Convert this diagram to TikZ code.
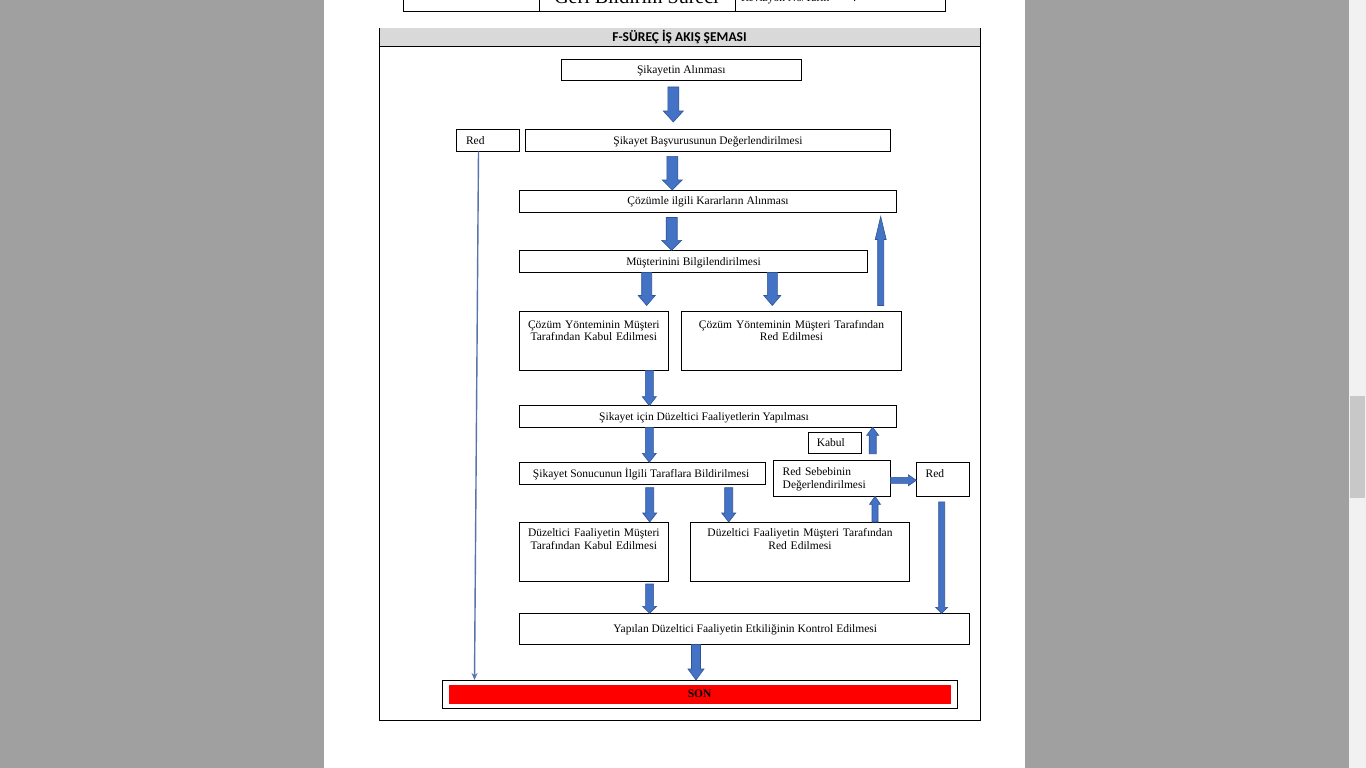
\documentclass[tikz,border=0pt]{standalone}
\usepackage{fontspec}
\setmainfont{Liberation Serif}
\newfontfamily\titlefont{Carlito}
\usetikzlibrary{calc,arrows.meta}
\definecolor{viewergray}{HTML}{A0A0A0}
\definecolor{arrowblue}{HTML}{4472C4}
\definecolor{arrowedge}{HTML}{2F5597}
\definecolor{headgray}{HTML}{D9D9D9}
\definecolor{thinblue}{HTML}{5874AC}
\definecolor{sbtrack}{HTML}{F1F1F1}
\definecolor{sbthumb}{HTML}{C8C8C8}
\definecolor{sonred}{HTML}{FF0000}

% box: name, x1, y1, x2, y2
\newcommand\bx[5]{\node[flowbox, minimum width={#4-#2}, minimum height={#5-#3}] (#1) at ({(#2+#4)/2},{(#3+#5)/2}) {};}
% block arrow: start, end, shaft half width, head half width, head length
\newcommand\blockarr[5]{%
  \path[blockarrow] let \p1=#1, \p2=#2, \n1={atan2(\y2-\y1,\x2-\x1)}, \n2={veclen(\x2-\x1,\y2-\y1)} in
    {[shift={(\p1)}, rotate=\n1] (0,#3) -- ({\n2-#5},#3) -- ({\n2-#5},#4) -- (\n2,0) -- ({\n2-#5},-#4) -- ({\n2-#5},-#3) -- (0,-#3) -- cycle};
}

\begin{document}
\begin{tikzpicture}[x=1pt,y=-1pt,
  flowbox/.style={draw=black, line width=1pt, fill=white, inner sep=0pt, outer sep=0pt},
  txt/.style={inner sep=0pt, outer sep=0pt, font=\fontsize{11.5}{12.5}\selectfont},
  blockarrow/.style={fill=arrowblue, draw=arrowedge, line width=0.6pt, line join=miter},
  thinarrow/.style={draw=thinblue, line width=1.4pt, -{Stealth[length=7pt,width=6pt]}}]
\useasboundingbox (0,0) rectangle (1366,768);
\begin{scope}
\clip (0,0) rectangle (1366,768);
% viewer background and page
\fill[viewergray] (0,0) rectangle (1366,768);
\fill[white] (324,0) rectangle (1025,768);
\fill[sbtrack] (1349,0) rectangle (1366,768);
\fill[sbthumb] (1350,396) rectangle (1365,498);

% top table (cut off)
\draw[line width=1pt] (403,-5) -- (403,12) -- (945,12) -- (945,-5);
\draw[line width=1pt] (539.5,-5) -- (539.5,12);
\draw[line width=1pt] (735.5,-5) -- (735.5,12);
\node[txt, font=\fontsize{20}{22}\selectfont, anchor=base] (toptitle) at (636.5,3.5) {Geri Bildirim Süreci};
\node[txt, anchor=base west] (toprev) at (741,2) {Revizyon No/Tarih};
\node[txt, anchor=base west] (topcolon) at (853,2) {:};

% section frame
\fill[headgray] (379,28) rectangle (980,47);
\draw[line width=1pt] (379,28) -- (379,720) -- (980,720) -- (980,28);
\draw[line width=1pt] (379,47) -- (980,47);
\node[txt, font=\titlefont\bfseries\fontsize{13.5}{15}\selectfont, anchor=base] (title) at (679.5,42) {F-SÜREÇ İŞ AKIŞ ŞEMASI};

% boxes
\bx{n1}{561}{59.5}{801.5}{80.5}
\bx{redL}{456}{129.5}{519}{151.3}
\bx{n3}{525.5}{129.5}{890.3}{151.3}
\bx{n4}{519.3}{190}{896.7}{212}
\bx{n5}{519.3}{250.3}{867.7}{272.3}
\bx{n6}{519.3}{311}{668.3}{370.3}
\bx{n7}{681.3}{311}{901.7}{370.3}
\bx{n8}{519.3}{405.7}{896.7}{427.3}
\bx{kabul}{808.3}{432.3}{861.3}{453.7}
\bx{n10}{519.3}{462.3}{765}{484.7}
\bx{n11}{773.3}{460.3}{890.3}{496.3}
\bx{redR}{916.3}{462.3}{969.7}{496.3}
\bx{n13}{519.3}{522}{668.3}{581}
\bx{n14}{690.3}{522}{909.7}{581}
\bx{n15}{519.3}{613.3}{969.3}{644.3}
\bx{son}{442.5}{680}{957.5}{708.3}
\fill[sonred] (449,685) rectangle (950.7,703.7);

% texts
\node[txt, anchor=base] (t1) at ($(n1.center)+(0,3.8)$) {Şikayetin Alınması};
\node[txt, anchor=base west] (tredL) at ($(redL.west)+(10,3.8)$) {Red};
\node[txt, anchor=base] (t3) at ($(n3.center)+(0,3.8)$) {Şikayet Başvurusunun Değerlendirilmesi};
\node[txt, anchor=base] (t4) at ($(n4.center)+(0,3.8)$) {Çözümle ilgili Kararların Alınması};
\node[txt, anchor=base] (t5) at ($(n5.center)+(0,3.8)$) {Müşterinini Bilgilendirilmesi};
\node[txt, anchor=base, text width=148pt, align=center] (t6) at (593.8,328) {Çözüm Yönteminin Müşteri\\Tarafından Kabul Edilmesi};
\node[txt, anchor=base, text width=218pt, align=center] (t7) at (791.5,328) {Çözüm Yönteminin Müşteri Tarafından\\Red Edilmesi};
\node[txt, anchor=base] (t8) at ($(n8.center)+(-4,3.8)$) {Şikayet için Düzeltici Faaliyetlerin Yapılması};
\node[txt, anchor=base west] (tkabul) at ($(kabul.west)+(8.5,3.8)$) {Kabul};
\node[txt, anchor=base] (t10) at ($(n10.center)+(-1,3.8)$) {Şikayet Sonucunun İlgili Taraflara Bildirilmesi};
\node[txt, anchor=base west, text width=110pt, align=left] (t11) at (782.7,475.5) {Red Sebebinin\\Değerlendirilmesi};
\node[txt, anchor=base west] (tredR) at (925.7,477.5) {Red};
\node[txt, anchor=base, text width=148pt, align=center] (t13) at (593.8,536.5) {Düzeltici Faaliyetin Müşteri\\Tarafından Kabul Edilmesi};
\node[txt, anchor=base, text width=218pt, align=center] (t14) at (800,536.5) {Düzeltici Faaliyetin Müşteri Tarafından\\Red Edilmesi};
\node[txt, anchor=base] (t15) at ($(n15.center)+(1,3.8)$) {Yapılan Düzeltici Faaliyetin Etkiliğinin Kontrol Edilmesi};
\node[txt, anchor=base, font=\bfseries\fontsize{11.5}{12.5}\selectfont] (tson) at (699.6,697) {SON};

% block arrows
\blockarr{($(n1.south -| 673.3,0)+(0,6.5)$)}{($(n3.north -| 673.3,0)+(0,-7.5)$)}{5.5}{10}{11}
\blockarr{($(n3.south -| 672.3,0)+(0,5)$)}{(n4.north -| 672.3,0)}{5.5}{10}{10}
\blockarr{($(n4.south -| 671.7,0)+(0,5.5)$)}{(n5.north -| 671.7,0)}{5.5}{10}{10}
\blockarr{(n5.south -| 646.7,0)}{($(n6.north -| 646.7,0)+(0,-5.5)$)}{5}{8.5}{10}
\blockarr{(n5.south -| 772.3,0)}{($(n7.north -| 772.3,0)+(0,-5.5)$)}{5}{8.5}{10}
\blockarr{($(n7.north -| 880.7,0)+(0,-5.5)$)}{($(n4.south -| 880.7,0)+(0,4.5)$)}{3}{5.5}{23}
\blockarr{(n6.south -| 649.3,0)}{(n8.north -| 649.3,0)}{4}{7}{9}
\blockarr{(n8.south -| 649.3,0)}{(n10.north -| 649.3,0)}{4}{7}{9}
\blockarr{(kabul.south -| 872.7,0)}{(n8.south -| 872.7,0)}{3.5}{6}{8}
\blockarr{(n11.east |- 0,480.3)}{(redR.west |- 0,480.3)}{3}{5.5}{8}
\blockarr{(n14.north -| 875,0)}{(n11.south -| 875,0)}{3}{5.5}{8}
\blockarr{($(n10.south -| 649.7,0)+(0,3)$)}{(n13.north -| 649.7,0)}{4}{7}{9}
\blockarr{($(n10.south -| 728.7,0)+(0,3)$)}{(n14.north -| 728.7,0)}{4}{7}{9}
\blockarr{($(redR.south -| 941.7,0)+(0,5.5)$)}{(n15.north -| 941.7,0)}{3}{6}{6}
\blockarr{($(n13.south -| 649.6,0)+(0,3)$)}{(n15.north -| 649.6,0)}{4}{7}{7}
\blockarr{(n15.south -| 696,0)}{(son.north -| 696,0)}{4.5}{8}{11}

% thin connector from left Red to SON
\draw[thinarrow] (redL.south -| 478.5,0) -- (son.north -| 474.5,0);
\end{scope}
\end{tikzpicture}
\end{document}
